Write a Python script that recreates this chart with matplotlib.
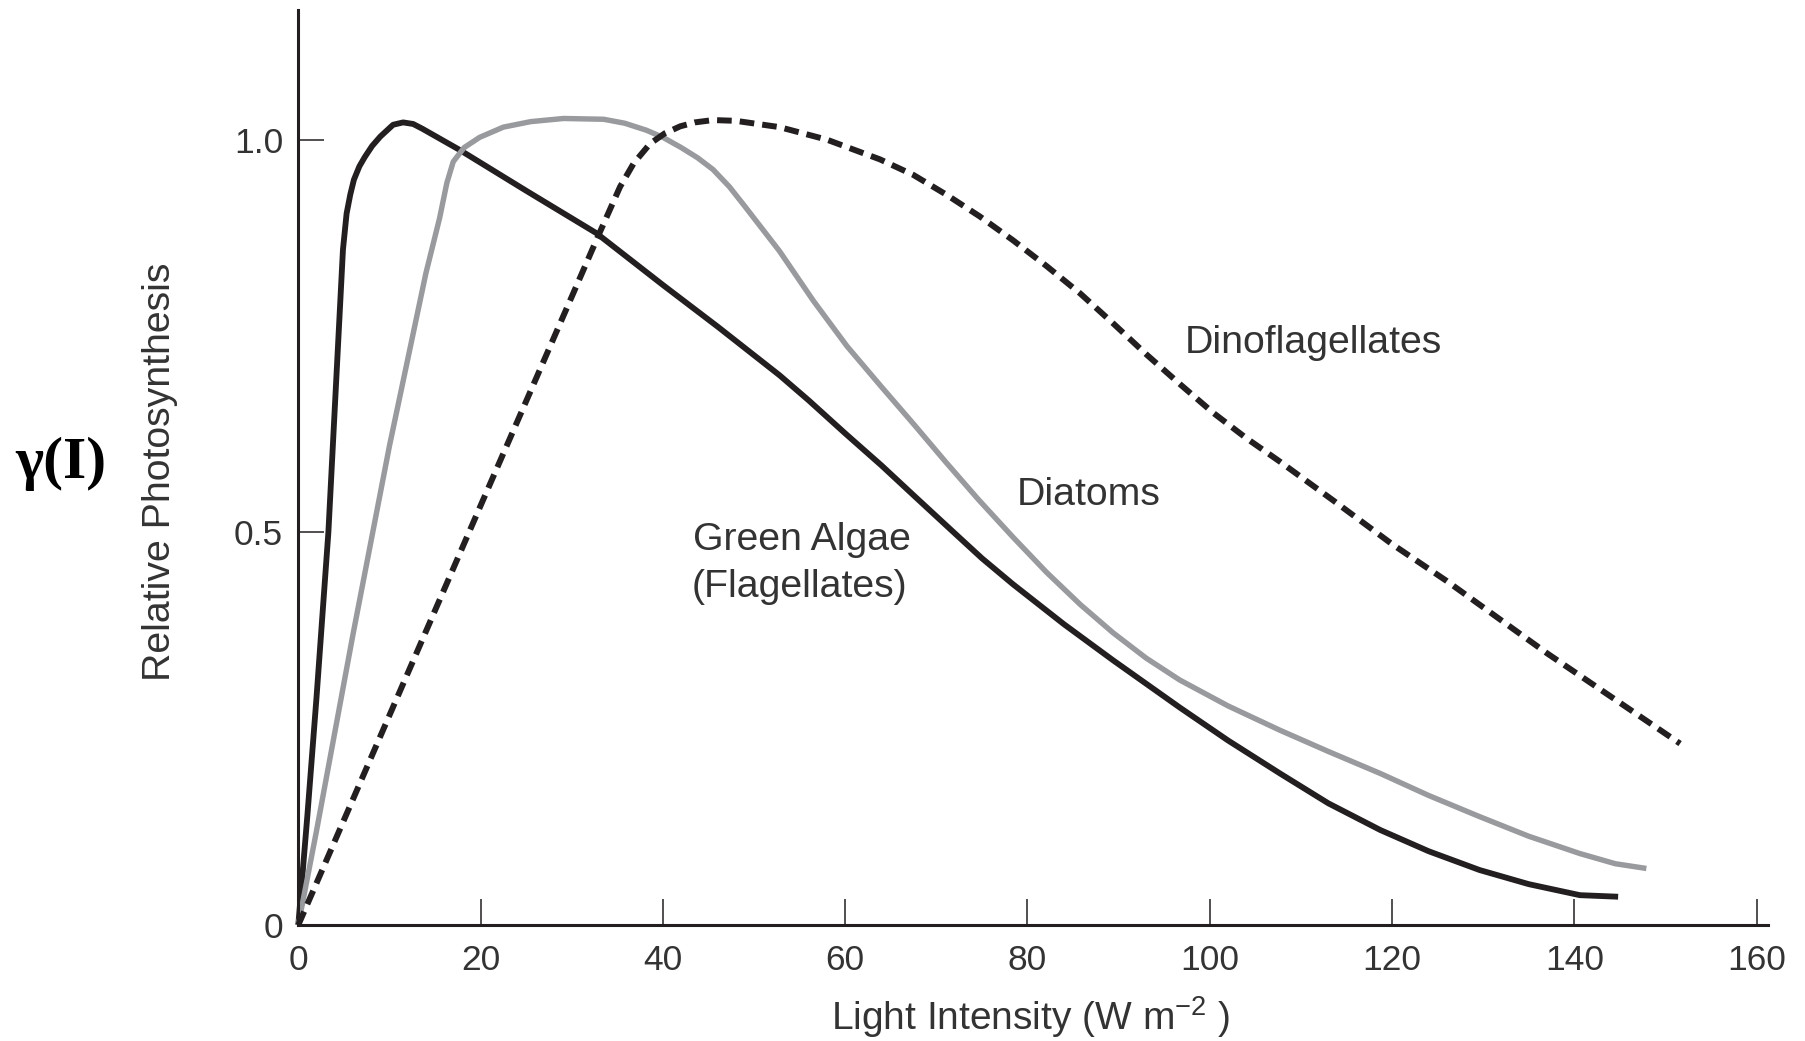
import matplotlib
matplotlib.use('Agg')
import matplotlib.pyplot as plt

plt.rcParams['font.family'] = ['Liberation Sans', 'DejaVu Sans']
plt.rcParams['mathtext.fontset'] = 'custom'
plt.rcParams['mathtext.rm'] = 'Liberation Sans'
plt.rcParams['mathtext.it'] = 'Liberation Sans:italic'

# values
green_x = [0, 1.0, 2.0, 3.3, 4.1, 4.9, 5.3, 5.7, 6.1, 6.7, 7.3, 8.1, 9.0, 10.4, 11.5, 12.6, 13.6,
           17.7, 25.0, 32.7, 40.0, 46.0, 52.8, 56.0, 60.0, 64.0, 67.8, 72.0, 75.0, 78.4, 84.0,
           89.4, 96.7, 102.0, 107.7, 113.0, 118.7, 124.0, 129.6, 135.0, 140.6, 144.8]
green_y = [0, 0.14, 0.29, 0.50, 0.68, 0.86, 0.906, 0.93, 0.949, 0.966, 0.978, 0.992, 1.004, 1.019,
           1.022, 1.02, 1.014, 0.987, 0.935, 0.881, 0.815, 0.762, 0.70, 0.668, 0.626, 0.585, 0.544,
           0.499, 0.467, 0.434, 0.383, 0.337, 0.277, 0.235, 0.193, 0.155, 0.121, 0.094, 0.07,
           0.052, 0.038, 0.036]

diatom_x = [0, 2, 4, 6, 8, 10, 12, 14, 15.5, 16.3, 17.0, 18.2, 19.9, 22.5, 25.5, 29.1, 33.5, 35.8,
            38.2, 40.0, 42.0, 43.8, 45.5, 47.3, 49.0, 52.8, 56.5, 60.2, 64.0, 67.5, 71.0, 74.6,
            78.4, 82.1, 85.8, 89.4, 93.0, 96.7, 102.0, 107.7, 113.0, 118.7, 124.0, 129.6, 135.0,
            140.6, 144.5, 147.9]
diatom_y = [0, 0.12, 0.245, 0.37, 0.49, 0.61, 0.72, 0.83, 0.9, 0.945, 0.972, 0.99, 1.003, 1.016,
            1.023, 1.027, 1.026, 1.021, 1.012, 1.003, 0.99, 0.977, 0.962, 0.94, 0.915, 0.858,
            0.795, 0.737, 0.685, 0.638, 0.59, 0.542, 0.494, 0.449, 0.408, 0.372, 0.34, 0.312,
            0.279, 0.248, 0.221, 0.193, 0.165, 0.138, 0.113, 0.091, 0.078, 0.072]

dino_x = [0, 10, 20, 30, 33, 35.3, 36.8, 38.6, 40.2, 41.9, 43.5, 45.5, 48.0, 52.8, 58.0, 63.8,
          67.5, 71.1, 74.8, 78.4, 82.1, 85.8, 89.5, 93.1, 96.8, 100.4, 104.0, 107.7, 113.5, 120.0,
          126.0, 137.0, 151.6]
dino_y = [0, 0.267, 0.534, 0.80, 0.88, 0.94, 0.97, 0.995, 1.008, 1.017, 1.022, 1.025, 1.024, 1.016,
          1.0, 0.975, 0.955, 0.93, 0.902, 0.872, 0.839, 0.804, 0.765, 0.726, 0.688, 0.652, 0.62,
          0.59, 0.541, 0.485, 0.438, 0.346, 0.231]

x_ticks = [0, 20, 40, 60, 80, 100, 120, 140, 160]
y_ticks = [0, 0.5, 1.0]
y_ticklabels = ['0', '0.5', '1.0']

ink = '#231f20'
txt = '#333333'

fig = plt.figure(figsize=(18.06, 10.41), dpi=100)
ax = fig.add_axes([0.16517, 0.11143, 0.81357, 0.87886])

ax.plot(green_x, green_y, color=ink, lw=4.2, solid_capstyle='butt', solid_joinstyle='round',
        clip_on=False)
ax.plot(diatom_x, diatom_y, color='#999a9e', lw=3.9, solid_capstyle='butt',
        solid_joinstyle='round', clip_on=False)
ax.plot(dino_x, dino_y, color=ink, lw=4.3, dashes=(2.45, 1.35), dash_capstyle='butt',
        clip_on=False)

ax.set_xlim(0, 161.2)
ax.set_ylim(0, 1.165)

for s in ['top', 'right']:
    ax.spines[s].set_visible(False)
for s in ['left', 'bottom']:
    ax.spines[s].set_color(ink)
    ax.spines[s].set_linewidth(2.2)
    ax.spines[s].set_capstyle('projecting')

ax.set_xticks(x_ticks)
ax.set_yticks(y_ticks)
ax.set_yticklabels(y_ticklabels)
ax.tick_params(axis='both', direction='in', length=19, width=1.1, color=ink,
               labelsize=25.5, labelcolor=txt)
ax.tick_params(axis='x', pad=14)
ax.tick_params(axis='y', pad=11)

# curve labels
ax.text(97.3, 0.728, 'Dinoflagellates', fontsize=28.3, color=txt, va='baseline', ha='left')
ax.text(78.8, 0.535, 'Diatoms', fontsize=28.3, color=txt, va='baseline', ha='left')
ax.text(43.3, 0.4775, 'Green Algae', fontsize=28.3, color=txt, va='baseline', ha='left')
ax.text(43.2, 0.418, '(Flagellates)', fontsize=28.3, color=txt, va='baseline', ha='left')

# axis titles
fig.text(1031 / 1806, 1 - 1030 / 1041, 'Light Intensity (W m$^{-2}$ )', fontsize=28,
         color=txt, ha='center', va='baseline')
fig.text(160 / 1806, 1 - 472 / 1041, 'Relative Photosynthesis', fontsize=28.3, color=txt,
         rotation=90, ha='center', va='center')
fig.text(15 / 1806, 1 - 478 / 1041, 'γ(I)', fontsize=43, color='black',
         family=['Liberation Serif', 'DejaVu Serif'], fontweight='bold', ha='left', va='baseline')

fig.savefig('out.png', dpi=100, facecolor='white')
